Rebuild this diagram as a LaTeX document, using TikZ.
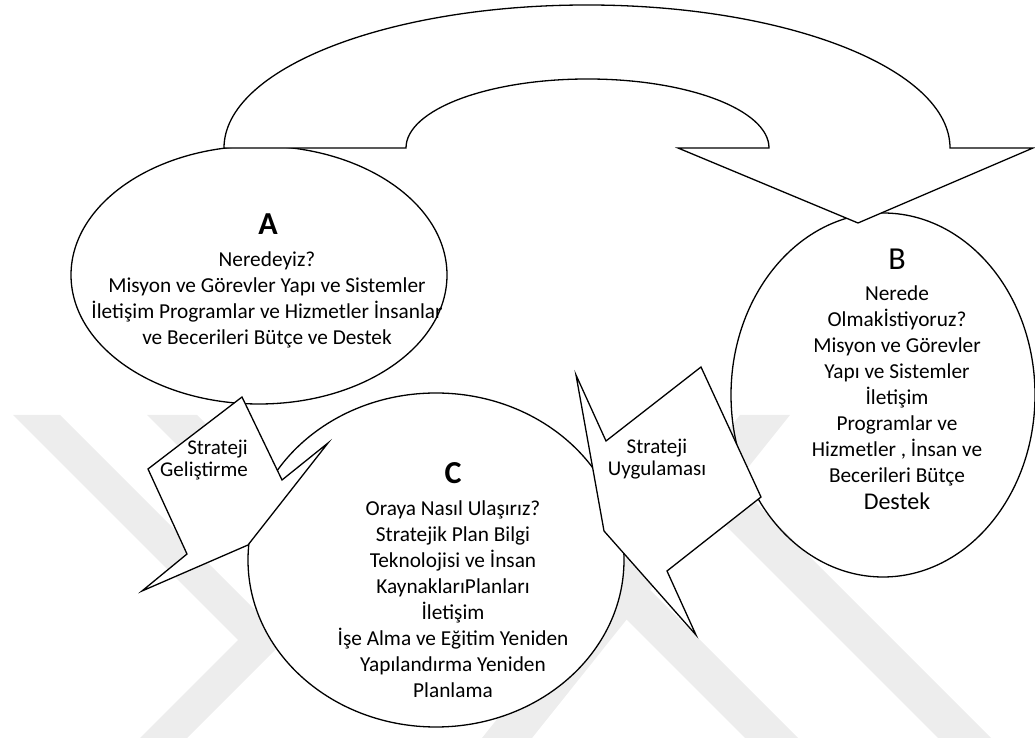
\documentclass[tikz,border=0pt]{standalone}
\usepackage{fontspec}
\setmainfont{Carlito}
\usetikzlibrary{shapes.geometric}
\begin{document}
\begin{tikzpicture}[x=1pt,y=1pt,
  outline/.style={draw=black, line width=1.3pt, line join=miter},
  bubble/.style={outline, ellipse, inner sep=0pt},
  whiteshape/.style={outline, fill=white},
  watermark/.style={fill=black!7},
  bodytext/.style={font=\fontsize{21.3}{26}\selectfont, align=center, inner sep=0pt},
  calltext/.style={font=\fontsize{21}{22}\selectfont, inner sep=0pt},
  bigletter/.style={font=\fontsize{32}{36}\selectfont\bfseries, inner sep=0pt, anchor=base},
  plainletter/.style={font=\fontsize{32}{36}\selectfont, inner sep=0pt, anchor=base}]
\useasboundingbox (0,0) rectangle (1035,738);

% faint background watermark
\fill[watermark]
  (13,323) -- (60,323) -- (285,98) -- (187,0) -- (140,0) -- (238,98) -- cycle
  (147,323) -- (197,323) -- (400,120) -- (350,120) -- cycle
  (740,323) -- (790,323) -- (532,0) -- (482,0) -- cycle
  (670,268) -- (723,268) -- (991,0) -- (938,0) -- cycle
  (597,148) -- (650,148) -- (798,0) -- (745,0) -- cycle;

% the three ellipses
\node[bubble, fill=white, minimum width=376, minimum height=258] (ellA) at (259,463) {};
\node[bubble, minimum width=304, minimum height=364] (ellB) at (883,343) {};
\node[bubble, fill=white, minimum width=376, minimum height=334] (ellC) at (436,178) {};

% U-turn arrow from A to B
\draw[whiteshape] (224,590) arc[start angle=180,end angle=0,x radius=363,y radius=143]
  -- (1033,590) -- (858,515) -- (678,590) -- (769,590)
  arc[start angle=0,end angle=180,x radius=181.5,y radius=69] -- cycle;

% callouts
\draw[whiteshape] (242,341) -- (282,258) -- (328,295) -- (248,193) -- (142,147)
  -- (187,184) -- (148,269) -- cycle;
\draw[whiteshape] (576,363) -- (606,297) -- (701,371) -- (761,241) -- (667,167)
  -- (696,103) -- (604,207) -- cycle;

% texts of A
\node[bigletter] (letA) at (268,503) {A};
\node[bodytext] (textA) at (267,438.5) {Neredeyiz?\\Misyon ve Görevler Yapı ve Sistemler\\İletişim Programlar ve Hizmetler İnsanlar\\ve Becerileri Bütçe ve Destek};

% texts of B
\node[plainletter] (letB) at (897,468) {B};
\node[bodytext] (textB) at (897,352.5) {Nerede\\Olmakİstiyoruz?\\Misyon ve Görevler\\Yapı ve Sistemler\\İletişim\\Programlar ve\\Hizmetler , İnsan ve\\Becerileri Bütçe};
\node[font=\fontsize{24}{28}\selectfont, inner sep=0pt, anchor=base] (destB) at (897,228) {Destek};

% texts of C
\node[bigletter] (letC) at (453,254) {C};
\node[bodytext] (textC) at (453,139) {Oraya Nasıl Ulaşırız?\\Stratejik Plan Bilgi\\Teknolojisi ve İnsan\\KaynaklarıPlanları\\İletişim\\İşe Alma ve Eğitim Yeniden\\Yapılandırma Yeniden\\Planlama};

% callout texts
\node[calltext, align=right, anchor=east] (call1) at (248,278) {Strateji\\Geliştirme};
\node[calltext, align=center] (call2) at (657,279) {Strateji\\Uygulaması};
\end{tikzpicture}
\end{document}
